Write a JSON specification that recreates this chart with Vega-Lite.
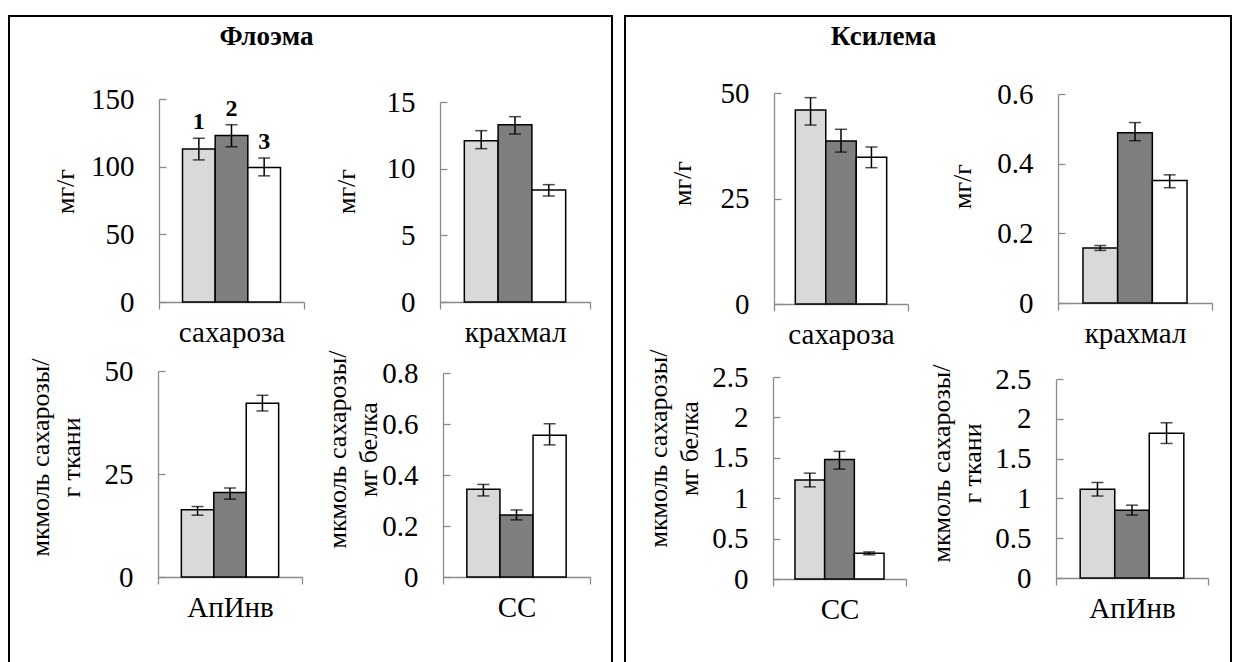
{
  "$schema": "https://vega.github.io/schema/vega-lite/v6.json",
  "padding": {"left": 8, "top": 15, "right": 0, "bottom": 0},
  "background": "white",
  "spacing": 11,
  "data": {"values": [
    {"panel": "P1", "cat": "сахароза", "grp": "1", "value": 113, "lo": 105, "hi": 121, "label": "1"},
    {"panel": "P1", "cat": "сахароза", "grp": "2", "value": 123, "lo": 114.7, "hi": 131, "label": "2"},
    {"panel": "P1", "cat": "сахароза", "grp": "3", "value": 99.4, "lo": 93.2, "hi": 106.4, "label": "3"},
    {"panel": "P2", "cat": "крахмал", "grp": "1", "value": 12.1, "lo": 11.5, "hi": 12.85, "label": ""},
    {"panel": "P2", "cat": "крахмал", "grp": "2", "value": 13.3, "lo": 12.6, "hi": 13.9, "label": ""},
    {"panel": "P2", "cat": "крахмал", "grp": "3", "value": 8.4, "lo": 7.95, "hi": 8.8, "label": ""},
    {"panel": "P3", "cat": "АпИнв", "grp": "1", "value": 16.3, "lo": 15.0, "hi": 17.1, "label": ""},
    {"panel": "P3", "cat": "АпИнв", "grp": "2", "value": 20.5, "lo": 18.9, "hi": 21.6, "label": ""},
    {"panel": "P3", "cat": "АпИнв", "grp": "3", "value": 42.2, "lo": 40.3, "hi": 44.1, "label": ""},
    {"panel": "P4", "cat": "СС", "grp": "1", "value": 0.344, "lo": 0.318, "hi": 0.363, "label": ""},
    {"panel": "P4", "cat": "СС", "grp": "2", "value": 0.243, "lo": 0.224, "hi": 0.263, "label": ""},
    {"panel": "P4", "cat": "СС", "grp": "3", "value": 0.556, "lo": 0.518, "hi": 0.601, "label": ""},
    {"panel": "P5", "cat": "сахароза", "grp": "1", "value": 46.0, "lo": 42.4, "hi": 48.9, "label": ""},
    {"panel": "P5", "cat": "сахароза", "grp": "2", "value": 38.6, "lo": 36.0, "hi": 41.4, "label": ""},
    {"panel": "P5", "cat": "сахароза", "grp": "3", "value": 34.8, "lo": 32.3, "hi": 37.2, "label": ""},
    {"panel": "P6", "cat": "крахмал", "grp": "1", "value": 0.158, "lo": 0.151, "hi": 0.165, "label": ""},
    {"panel": "P6", "cat": "крахмал", "grp": "2", "value": 0.489, "lo": 0.466, "hi": 0.518, "label": ""},
    {"panel": "P6", "cat": "крахмал", "grp": "3", "value": 0.352, "lo": 0.331, "hi": 0.368, "label": ""},
    {"panel": "P7", "cat": "СС", "grp": "1", "value": 1.225, "lo": 1.14, "hi": 1.31, "label": ""},
    {"panel": "P7", "cat": "СС", "grp": "2", "value": 1.48, "lo": 1.36, "hi": 1.58, "label": ""},
    {"panel": "P7", "cat": "СС", "grp": "3", "value": 0.318, "lo": 0.3, "hi": 0.335, "label": ""},
    {"panel": "P8", "cat": "АпИнв", "grp": "1", "value": 1.116, "lo": 1.03, "hi": 1.2, "label": ""},
    {"panel": "P8", "cat": "АпИнв", "grp": "2", "value": 0.852, "lo": 0.79, "hi": 0.915, "label": ""},
    {"panel": "P8", "cat": "АпИнв", "grp": "3", "value": 1.82, "lo": 1.69, "hi": 1.95, "label": ""}
  ]},
  "config": {
    "font": "Liberation Serif",
    "style": {"guide-label": {"font": "Liberation Serif"}, "guide-title": {"font": "Liberation Serif"}},
    "axis": {"domainColor": "#8a8a8a", "tickColor": "#8a8a8a", "domainWidth": 1.3, "tickWidth": 1.3, "labelFont": "Liberation Serif", "labelFontSize": 29, "labelColor": "#000000", "titleFont": "Liberation Serif", "titleFontSize": 26, "titleFontWeight": "normal", "titleColor": "#000000", "grid": false, "labelOverlap": false, "labelFlush": false, "labelBound": false},
    "axisX": {"tickBand": "extent", "tickSize": 7, "labelPadding": 9, "labelAngle": 0},
    "axisY": {"tickSize": -7, "labelPadding": 32, "titleAngle": 270, "titleBaseline": "middle", "titleAlign": "center", "titleLineHeight": 31}
  },
  "hconcat": [
    {
      "width": 603, "height": 660,
      "view": {"stroke": "black", "strokeWidth": 2},
      "resolve": {"scale": {"x": "independent", "y": "independent", "xOffset": "independent"}, "axis": {"x": "independent", "y": "independent"}},
      "layer": [
        {
          "transform": [{"filter": {"field": "panel", "equal": "P1"}}],
          "mark": {"type": "tick", "opacity": 0},
          "encoding": {"x": {"field": "panel", "type": "nominal", "scale": {"range": [0, 603], "paddingInner": 0, "paddingOuter": 0}, "axis": {"orient": "top", "offset": 0, "title": "Флоэма", "domain": false, "ticks": false, "labels": false, "titleX": 257, "titleY": 28, "titleFontSize": 27, "titleFontWeight": "bold", "titleBaseline": "alphabetic", "titleAngle": 0, "titleAlign": "center"}}}
        },
        {
          "transform": [{"filter": {"field": "panel", "equal": "P1"}}],
          "encoding": {
            "x": {"field": "cat", "type": "nominal", "scale": {"range": [150, 295], "paddingInner": 0, "paddingOuter": 0}, "axis": {"orient": "bottom", "offset": -374, "title": null}},
            "xOffset": {"field": "grp", "type": "nominal", "scale": {"paddingInner": 0, "paddingOuter": 0.72}}
          },
          "layer": [
            {"mark": {"type": "bar", "stroke": "black", "strokeWidth": 1.5}, "encoding": {
              "y": {"field": "value", "type": "quantitative", "scale": {"domain": [0, 150], "range": [286, 83], "nice": false}, "axis": {"orient": "left", "offset": -150, "values": [0, 50, 100, 150], "format": ".3~g", "title": "мг/г", "titleX": -94, "titleY": 175}},
              "fill": {"field": "grp", "type": "nominal", "scale": {"domain": ["1", "2", "3"], "range": ["#d9d9d9", "#7f7f7f", "#ffffff"]}, "legend": null}}},
            {"mark": {"type": "rule", "color": "black", "strokeWidth": 1.5}, "encoding": {"y": {"field": "lo", "type": "quantitative", "scale": {"domain": [0, 150], "range": [286, 83], "nice": false}}, "y2": {"field": "hi"}}},
            {"mark": {"type": "tick", "color": "black", "size": 12, "thickness": 1.5}, "encoding": {"y": {"field": "lo", "type": "quantitative", "scale": {"domain": [0, 150], "range": [286, 83], "nice": false}}}},
            {"mark": {"type": "tick", "color": "black", "size": 12, "thickness": 1.5}, "encoding": {"y": {"field": "hi", "type": "quantitative", "scale": {"domain": [0, 150], "range": [286, 83], "nice": false}}}},
            {"mark": {"type": "text", "font": "Liberation Serif", "fontSize": 24, "fontWeight": "bold", "baseline": "bottom", "dy": -4, "color": "black"}, "encoding": {"y": {"field": "hi", "type": "quantitative", "scale": {"domain": [0, 150], "range": [286, 83], "nice": false}}, "text": {"field": "label"}}}
          ]
        },
        {
          "transform": [{"filter": {"field": "panel", "equal": "P2"}}],
          "encoding": {
            "x": {"field": "cat", "type": "nominal", "scale": {"range": [431, 581], "paddingInner": 0, "paddingOuter": 0}, "axis": {"orient": "bottom", "offset": -374, "title": null}},
            "xOffset": {"field": "grp", "type": "nominal", "scale": {"paddingInner": 0, "paddingOuter": 0.72}}
          },
          "layer": [
            {"mark": {"type": "bar", "stroke": "black", "strokeWidth": 1.5}, "encoding": {
              "y": {"field": "value", "type": "quantitative", "scale": {"domain": [0, 15], "range": [286, 86], "nice": false}, "axis": {"orient": "left", "offset": -431, "values": [0, 5, 10, 15], "format": ".3~g", "title": "мг/г", "titleX": -94, "titleY": 175}},
              "fill": {"field": "grp", "type": "nominal", "scale": {"domain": ["1", "2", "3"], "range": ["#d9d9d9", "#7f7f7f", "#ffffff"]}, "legend": null}}},
            {"mark": {"type": "rule", "color": "black", "strokeWidth": 1.5}, "encoding": {"y": {"field": "lo", "type": "quantitative", "scale": {"domain": [0, 15], "range": [286, 86], "nice": false}}, "y2": {"field": "hi"}}},
            {"mark": {"type": "tick", "color": "black", "size": 12, "thickness": 1.5}, "encoding": {"y": {"field": "lo", "type": "quantitative", "scale": {"domain": [0, 15], "range": [286, 86], "nice": false}}}},
            {"mark": {"type": "tick", "color": "black", "size": 12, "thickness": 1.5}, "encoding": {"y": {"field": "hi", "type": "quantitative", "scale": {"domain": [0, 15], "range": [286, 86], "nice": false}}}}
          ]
        },
        {
          "transform": [{"filter": {"field": "panel", "equal": "P3"}}],
          "encoding": {
            "x": {"field": "cat", "type": "nominal", "scale": {"range": [149, 293], "paddingInner": 0, "paddingOuter": 0}, "axis": {"orient": "bottom", "offset": -99, "title": null}},
            "xOffset": {"field": "grp", "type": "nominal", "scale": {"paddingInner": 0, "paddingOuter": 0.72}}
          },
          "layer": [
            {"mark": {"type": "bar", "stroke": "black", "strokeWidth": 1.5}, "encoding": {
              "y": {"field": "value", "type": "quantitative", "scale": {"domain": [0, 50], "range": [561, 355], "nice": false}, "axis": {"orient": "left", "offset": -149, "values": [0, 25, 50], "format": ".3~g", "title": ["мкмоль сахарозы/", "г ткани"], "titleX": -118, "titleY": 441}},
              "fill": {"field": "grp", "type": "nominal", "scale": {"domain": ["1", "2", "3"], "range": ["#d9d9d9", "#7f7f7f", "#ffffff"]}, "legend": null}}},
            {"mark": {"type": "rule", "color": "black", "strokeWidth": 1.5}, "encoding": {"y": {"field": "lo", "type": "quantitative", "scale": {"domain": [0, 50], "range": [561, 355], "nice": false}}, "y2": {"field": "hi"}}},
            {"mark": {"type": "tick", "color": "black", "size": 12, "thickness": 1.5}, "encoding": {"y": {"field": "lo", "type": "quantitative", "scale": {"domain": [0, 50], "range": [561, 355], "nice": false}}}},
            {"mark": {"type": "tick", "color": "black", "size": 12, "thickness": 1.5}, "encoding": {"y": {"field": "hi", "type": "quantitative", "scale": {"domain": [0, 50], "range": [561, 355], "nice": false}}}}
          ]
        },
        {
          "transform": [{"filter": {"field": "panel", "equal": "P4"}}],
          "encoding": {
            "x": {"field": "cat", "type": "nominal", "scale": {"range": [434, 581], "paddingInner": 0, "paddingOuter": 0}, "axis": {"orient": "bottom", "offset": -99, "title": null}},
            "xOffset": {"field": "grp", "type": "nominal", "scale": {"paddingInner": 0, "paddingOuter": 0.72}}
          },
          "layer": [
            {"mark": {"type": "bar", "stroke": "black", "strokeWidth": 1.5}, "encoding": {
              "y": {"field": "value", "type": "quantitative", "scale": {"domain": [0, 0.8], "range": [561, 357], "nice": false}, "axis": {"orient": "left", "offset": -434, "values": [0, 0.2, 0.4, 0.6, 0.8], "format": ".3~g", "title": ["мкмоль сахарозы/", "мг белка"], "titleX": -106, "titleY": 433}},
              "fill": {"field": "grp", "type": "nominal", "scale": {"domain": ["1", "2", "3"], "range": ["#d9d9d9", "#7f7f7f", "#ffffff"]}, "legend": null}}},
            {"mark": {"type": "rule", "color": "black", "strokeWidth": 1.5}, "encoding": {"y": {"field": "lo", "type": "quantitative", "scale": {"domain": [0, 0.8], "range": [561, 357], "nice": false}}, "y2": {"field": "hi"}}},
            {"mark": {"type": "tick", "color": "black", "size": 12, "thickness": 1.5}, "encoding": {"y": {"field": "lo", "type": "quantitative", "scale": {"domain": [0, 0.8], "range": [561, 357], "nice": false}}}},
            {"mark": {"type": "tick", "color": "black", "size": 12, "thickness": 1.5}, "encoding": {"y": {"field": "hi", "type": "quantitative", "scale": {"domain": [0, 0.8], "range": [561, 357], "nice": false}}}}
          ]
        }
      ]
    },
    {
      "width": 606, "height": 660,
      "view": {"stroke": "black", "strokeWidth": 2},
      "resolve": {"scale": {"x": "independent", "y": "independent", "xOffset": "independent"}, "axis": {"x": "independent", "y": "independent"}},
      "layer": [
        {
          "transform": [{"filter": {"field": "panel", "equal": "P5"}}],
          "mark": {"type": "tick", "opacity": 0},
          "encoding": {"x": {"field": "panel", "type": "nominal", "scale": {"range": [0, 606], "paddingInner": 0, "paddingOuter": 0}, "axis": {"orient": "top", "offset": 0, "title": "Ксилема", "domain": false, "ticks": false, "labels": false, "titleX": 258, "titleY": 28, "titleFontSize": 27, "titleFontWeight": "bold", "titleBaseline": "alphabetic", "titleAngle": 0, "titleAlign": "center"}}}
        },
        {
          "transform": [{"filter": {"field": "panel", "equal": "P5"}}],
          "encoding": {
            "x": {"field": "cat", "type": "nominal", "scale": {"range": [149, 283], "paddingInner": 0, "paddingOuter": 0}, "axis": {"orient": "bottom", "offset": -372, "title": null}},
            "xOffset": {"field": "grp", "type": "nominal", "scale": {"paddingInner": 0, "paddingOuter": 0.7}}
          },
          "layer": [
            {"mark": {"type": "bar", "stroke": "black", "strokeWidth": 1.5}, "encoding": {
              "y": {"field": "value", "type": "quantitative", "scale": {"domain": [0, 50], "range": [288, 77], "nice": false}, "axis": {"orient": "left", "offset": -149, "values": [0, 25, 50], "format": ".3~g", "title": "мг/г", "titleX": -92, "titleY": 167}},
              "fill": {"field": "grp", "type": "nominal", "scale": {"domain": ["1", "2", "3"], "range": ["#d9d9d9", "#7f7f7f", "#ffffff"]}, "legend": null}}},
            {"mark": {"type": "rule", "color": "black", "strokeWidth": 1.5}, "encoding": {"y": {"field": "lo", "type": "quantitative", "scale": {"domain": [0, 50], "range": [288, 77], "nice": false}}, "y2": {"field": "hi"}}},
            {"mark": {"type": "tick", "color": "black", "size": 12, "thickness": 1.5}, "encoding": {"y": {"field": "lo", "type": "quantitative", "scale": {"domain": [0, 50], "range": [288, 77], "nice": false}}}},
            {"mark": {"type": "tick", "color": "black", "size": 12, "thickness": 1.5}, "encoding": {"y": {"field": "hi", "type": "quantitative", "scale": {"domain": [0, 50], "range": [288, 77], "nice": false}}}}
          ]
        },
        {
          "transform": [{"filter": {"field": "panel", "equal": "P6"}}],
          "encoding": {
            "x": {"field": "cat", "type": "nominal", "scale": {"range": [433, 587], "paddingInner": 0, "paddingOuter": 0}, "axis": {"orient": "bottom", "offset": -373, "title": null}},
            "xOffset": {"field": "grp", "type": "nominal", "scale": {"paddingInner": 0, "paddingOuter": 0.72}}
          },
          "layer": [
            {"mark": {"type": "bar", "stroke": "black", "strokeWidth": 1.5}, "encoding": {
              "y": {"field": "value", "type": "quantitative", "scale": {"domain": [0, 0.6], "range": [287, 78], "nice": false}, "axis": {"orient": "left", "offset": -433, "values": [0, 0.2, 0.4, 0.6], "format": ".3~g", "title": "мг/г", "titleX": -96, "titleY": 170}},
              "fill": {"field": "grp", "type": "nominal", "scale": {"domain": ["1", "2", "3"], "range": ["#d9d9d9", "#7f7f7f", "#ffffff"]}, "legend": null}}},
            {"mark": {"type": "rule", "color": "black", "strokeWidth": 1.5}, "encoding": {"y": {"field": "lo", "type": "quantitative", "scale": {"domain": [0, 0.6], "range": [287, 78], "nice": false}}, "y2": {"field": "hi"}}},
            {"mark": {"type": "tick", "color": "black", "size": 12, "thickness": 1.5}, "encoding": {"y": {"field": "lo", "type": "quantitative", "scale": {"domain": [0, 0.6], "range": [287, 78], "nice": false}}}},
            {"mark": {"type": "tick", "color": "black", "size": 12, "thickness": 1.5}, "encoding": {"y": {"field": "hi", "type": "quantitative", "scale": {"domain": [0, 0.6], "range": [287, 78], "nice": false}}}}
          ]
        },
        {
          "transform": [{"filter": {"field": "panel", "equal": "P7"}}],
          "encoding": {
            "x": {"field": "cat", "type": "nominal", "scale": {"range": [148, 281], "paddingInner": 0, "paddingOuter": 0}, "axis": {"orient": "bottom", "offset": -97, "title": null}},
            "xOffset": {"field": "grp", "type": "nominal", "scale": {"paddingInner": 0, "paddingOuter": 0.74}}
          },
          "layer": [
            {"mark": {"type": "bar", "stroke": "black", "strokeWidth": 1.5}, "encoding": {
              "y": {"field": "value", "type": "quantitative", "scale": {"domain": [0, 2.5], "range": [563, 361], "nice": false}, "axis": {"orient": "left", "offset": -148, "values": [0, 0.5, 1, 1.5, 2, 2.5], "format": ".3~g", "title": ["мкмоль сахарозы/", "мг белка"], "titleX": -115, "titleY": 432}},
              "fill": {"field": "grp", "type": "nominal", "scale": {"domain": ["1", "2", "3"], "range": ["#d9d9d9", "#7f7f7f", "#ffffff"]}, "legend": null}}},
            {"mark": {"type": "rule", "color": "black", "strokeWidth": 1.5}, "encoding": {"y": {"field": "lo", "type": "quantitative", "scale": {"domain": [0, 2.5], "range": [563, 361], "nice": false}}, "y2": {"field": "hi"}}},
            {"mark": {"type": "tick", "color": "black", "size": 12, "thickness": 1.5}, "encoding": {"y": {"field": "lo", "type": "quantitative", "scale": {"domain": [0, 2.5], "range": [563, 361], "nice": false}}}},
            {"mark": {"type": "tick", "color": "black", "size": 12, "thickness": 1.5}, "encoding": {"y": {"field": "hi", "type": "quantitative", "scale": {"domain": [0, 2.5], "range": [563, 361], "nice": false}}}}
          ]
        },
        {
          "transform": [{"filter": {"field": "panel", "equal": "P8"}}],
          "encoding": {
            "x": {"field": "cat", "type": "nominal", "scale": {"range": [431, 583], "paddingInner": 0, "paddingOuter": 0}, "axis": {"orient": "bottom", "offset": -98, "title": null}},
            "xOffset": {"field": "grp", "type": "nominal", "scale": {"paddingInner": 0, "paddingOuter": 0.7}}
          },
          "layer": [
            {"mark": {"type": "bar", "stroke": "black", "strokeWidth": 1.5}, "encoding": {
              "y": {"field": "value", "type": "quantitative", "scale": {"domain": [0, 2.5], "range": [562, 363], "nice": false}, "axis": {"orient": "left", "offset": -431, "values": [0, 0.5, 1, 1.5, 2, 2.5], "format": ".3~g", "title": ["мкмоль сахарозы/", "г ткани"], "titleX": -115, "titleY": 447}},
              "fill": {"field": "grp", "type": "nominal", "scale": {"domain": ["1", "2", "3"], "range": ["#d9d9d9", "#7f7f7f", "#ffffff"]}, "legend": null}}},
            {"mark": {"type": "rule", "color": "black", "strokeWidth": 1.5}, "encoding": {"y": {"field": "lo", "type": "quantitative", "scale": {"domain": [0, 2.5], "range": [562, 363], "nice": false}}, "y2": {"field": "hi"}}},
            {"mark": {"type": "tick", "color": "black", "size": 12, "thickness": 1.5}, "encoding": {"y": {"field": "lo", "type": "quantitative", "scale": {"domain": [0, 2.5], "range": [562, 363], "nice": false}}}},
            {"mark": {"type": "tick", "color": "black", "size": 12, "thickness": 1.5}, "encoding": {"y": {"field": "hi", "type": "quantitative", "scale": {"domain": [0, 2.5], "range": [562, 363], "nice": false}}}}
          ]
        }
      ]
    }
  ]
}
